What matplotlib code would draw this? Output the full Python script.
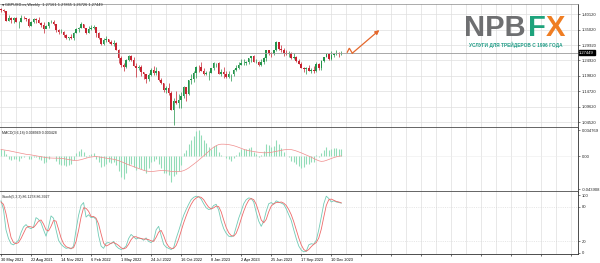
import matplotlib
matplotlib.use("Agg")
import matplotlib.pyplot as plt
import matplotlib.transforms as mtransforms
import numpy as np

### GBPUSD weekly candles, week of 30 May 2021 .. week of 7 Jan 2024 #########
opens = [1.4190, 1.4155, 1.4110, 1.3805, 1.3880, 1.3825, 1.3890, 1.3760, 1.3765, 1.3900,
         1.3875, 1.3865, 1.3640, 1.3760, 1.3865, 1.3840, 1.3735, 1.3675, 1.3530, 1.3615,
         1.3745, 1.3755, 1.3680, 1.3500, 1.3415, 1.3440, 1.3330, 1.3235, 1.3270, 1.3235,
         1.3405, 1.3530, 1.3570, 1.3680, 1.3555, 1.3405, 1.3530, 1.3555, 1.3590, 1.3410,
         1.3230, 1.3035, 1.3180, 1.3185, 1.3110, 1.3030, 1.3060, 1.2835, 1.2570, 1.2335,
         1.2260, 1.2490, 1.2620, 1.2490, 1.2310, 1.2230, 1.2265, 1.2095, 1.2030, 1.1870,
         1.2000, 1.2165, 1.2075, 1.2135, 1.1830, 1.1735, 1.1510, 1.1590, 1.1410, 1.0855,
         1.1165, 1.1090, 1.1170, 1.1310, 1.1615, 1.1375, 1.1830, 1.1890, 1.2090, 1.2285,
         1.2265, 1.2140, 1.2045, 1.2085, 1.2090, 1.2230, 1.2395, 1.2395, 1.2050, 1.2120,
         1.2030, 1.1945, 1.2035, 1.2035, 1.2180, 1.2230, 1.2335, 1.2410, 1.2415, 1.2440,
         1.2565, 1.2630, 1.2445, 1.2445, 1.2345, 1.2450, 1.2575, 1.2820, 1.2720, 1.2700,
         1.2840, 1.3090, 1.2855, 1.2850, 1.2750, 1.2695, 1.2735, 1.2575, 1.2590, 1.2465,
         1.2385, 1.2240, 1.2200, 1.2240, 1.2130, 1.2160, 1.2125, 1.2380, 1.2235, 1.2460,
         1.2605, 1.2700, 1.2545, 1.2680, 1.2705, 1.2730, 1.27161]
highs = [1.4220, 1.4200, 1.4135, 1.3975, 1.3935, 1.3910, 1.3910, 1.3785, 1.3985, 1.3960,
         1.3890, 1.3890, 1.3785, 1.3890, 1.3890, 1.3910, 1.3750, 1.3750, 1.3675, 1.3775,
         1.3835, 1.3830, 1.3700, 1.3515, 1.3515, 1.3450, 1.3375, 1.3275, 1.3375, 1.3440,
         1.3545, 1.3600, 1.3750, 1.3690, 1.3555, 1.3630, 1.3645, 1.3645, 1.3605, 1.3440,
         1.3245, 1.3215, 1.3300, 1.3190, 1.3170, 1.3150, 1.3090, 1.2870, 1.2640, 1.2405,
         1.2525, 1.2665, 1.2665, 1.2600, 1.2405, 1.2325, 1.2330, 1.2100, 1.2045, 1.2065,
         1.2245, 1.2295, 1.2275, 1.2140, 1.1900, 1.1760, 1.1650, 1.1740, 1.1475, 1.1235,
         1.1495, 1.1380, 1.1440, 1.1645, 1.1620, 1.1855, 1.2030, 1.2155, 1.2310, 1.2345,
         1.2445, 1.2240, 1.2125, 1.2125, 1.2245, 1.2435, 1.2420, 1.2450, 1.2195, 1.2270,
         1.2145, 1.2145, 1.2045, 1.2205, 1.2345, 1.2425, 1.2525, 1.2545, 1.2475, 1.2585,
         1.2640, 1.2680, 1.2545, 1.2475, 1.2545, 1.2590, 1.2850, 1.2850, 1.2755, 1.2850,
         1.3145, 1.3095, 1.3000, 1.2890, 1.2820, 1.2790, 1.2765, 1.2745, 1.2650, 1.2545,
         1.2425, 1.2270, 1.2270, 1.2335, 1.2235, 1.2290, 1.2430, 1.2390, 1.2505, 1.2615,
         1.2735, 1.2720, 1.2795, 1.2735, 1.2825, 1.2770, 1.27865]
lows = [1.4085, 1.4075, 1.3790, 1.3785, 1.3735, 1.3730, 1.3745, 1.3570, 1.3760, 1.3865,
        1.3805, 1.3600, 1.3640, 1.3725, 1.3725, 1.3715, 1.3605, 1.3410, 1.3545, 1.3570,
        1.3735, 1.3670, 1.3425, 1.3355, 1.3395, 1.3280, 1.3195, 1.3160, 1.3200, 1.3170,
        1.3400, 1.3430, 1.3570, 1.3545, 1.3360, 1.3405, 1.3490, 1.3520, 1.3270, 1.3210,
        1.3000, 1.3000, 1.3105, 1.3050, 1.3000, 1.2975, 1.2830, 1.2410, 1.2275, 1.2155,
        1.2235, 1.2460, 1.2460, 1.2300, 1.1935, 1.2160, 1.1975, 1.1875, 1.1760, 1.1810,
        1.1960, 1.2005, 1.2005, 1.1820, 1.1715, 1.1445, 1.1405, 1.1350, 1.0840, 1.0350,
        1.1055, 1.0925, 1.0925, 1.1260, 1.1145, 1.1335, 1.1710, 1.1780, 1.1900, 1.2105,
        1.2130, 1.2020, 1.2000, 1.1840, 1.2085, 1.2170, 1.2265, 1.2045, 1.1960, 1.1915,
        1.1925, 1.1920, 1.1805, 1.1990, 1.2135, 1.2215, 1.2335, 1.2345, 1.2345, 1.2365,
        1.2440, 1.2440, 1.2390, 1.2310, 1.2310, 1.2370, 1.2485, 1.2685, 1.2590, 1.2675,
        1.2795, 1.2840, 1.2765, 1.2620, 1.2660, 1.2615, 1.2550, 1.2545, 1.2445, 1.2380,
        1.2230, 1.2110, 1.2035, 1.2125, 1.2090, 1.2070, 1.2095, 1.2185, 1.2185, 1.2445,
        1.2590, 1.2500, 1.2500, 1.2610, 1.2675, 1.2610, 1.26726]
closes = [1.4155, 1.4110, 1.3805, 1.3880, 1.3825, 1.3890, 1.3760, 1.3765, 1.3900, 1.3875,
          1.3865, 1.3640, 1.3760, 1.3865, 1.3840, 1.3735, 1.3675, 1.3530, 1.3615, 1.3745,
          1.3755, 1.3680, 1.3500, 1.3415, 1.3440, 1.3330, 1.3235, 1.3270, 1.3235, 1.3405,
          1.3530, 1.3570, 1.3680, 1.3555, 1.3405, 1.3530, 1.3555, 1.3590, 1.3410, 1.3230,
          1.3035, 1.3180, 1.3185, 1.3110, 1.3030, 1.3060, 1.2835, 1.2570, 1.2335, 1.2260,
          1.2490, 1.2620, 1.2490, 1.2310, 1.2230, 1.2265, 1.2095, 1.2030, 1.1870, 1.2000,
          1.2165, 1.2075, 1.2135, 1.1830, 1.1735, 1.1510, 1.1590, 1.1410, 1.0855, 1.1165,
          1.1090, 1.1170, 1.1310, 1.1615, 1.1375, 1.1830, 1.1890, 1.2090, 1.2285, 1.2265,
          1.2140, 1.2045, 1.2085, 1.2090, 1.2230, 1.2395, 1.2395, 1.2050, 1.2120, 1.2030,
          1.1945, 1.2035, 1.2035, 1.2180, 1.2230, 1.2335, 1.2410, 1.2415, 1.2440, 1.2565,
          1.2630, 1.2445, 1.2445, 1.2345, 1.2450, 1.2575, 1.2820, 1.2720, 1.2700, 1.2840,
          1.3090, 1.2855, 1.2850, 1.2750, 1.2695, 1.2735, 1.2575, 1.2590, 1.2465, 1.2385,
          1.2240, 1.2200, 1.2240, 1.2130, 1.2160, 1.2125, 1.2380, 1.2235, 1.2460, 1.2605,
          1.2700, 1.2545, 1.2680, 1.2705, 1.2730, 1.2715, 1.27449]

### MACD sub window (histogram + signal) #####################################
macd_hist = [0.010, 0.008, 0.003, -0.004, -0.005, -0.003, -0.004, -0.006, -0.002, -0.001,
             0.000, -0.004, -0.003, -0.001, -0.001, -0.003, -0.005, -0.009, -0.007, -0.003,
             0.001, 0.000, -0.006, -0.010, -0.011, -0.012, -0.013, -0.011, -0.010, -0.005,
             0.004, 0.007, 0.010, 0.005, -0.001, 0.002, 0.003, 0.004, -0.003, -0.008,
             -0.014, -0.013, -0.010, -0.008, -0.009, -0.008, -0.012, -0.020, -0.028, -0.030,
             -0.022, -0.012, -0.010, -0.014, -0.018, -0.016, -0.017, -0.018, -0.022, -0.016,
             -0.008, -0.006, -0.004, -0.010, -0.015, -0.022, -0.022, -0.025, -0.034, -0.026,
             -0.024, -0.020, -0.012, 0.004, 0.008, 0.016, 0.022, 0.027, 0.033, 0.035,
             0.028, 0.022, 0.017, 0.012, 0.010, 0.014, 0.015, 0.006, 0.002, 0.001,
             -0.002, -0.004, -0.006, -0.002, 0.002, 0.006, 0.009, 0.010, 0.009, 0.011,
             0.012, 0.006, 0.003, -0.001, 0.002, 0.007, 0.016, 0.015, 0.012, 0.014,
             0.022, 0.016, 0.011, 0.005, 0.001, -0.001, -0.006, -0.007, -0.010, -0.013,
             -0.016, -0.014, -0.010, -0.010, -0.008, -0.007, 0.002, -0.001, 0.004, 0.008,
             0.012, 0.008, 0.010, 0.011, 0.011, 0.009, 0.008969]
macd_signal = [0.0090, 0.0085, 0.0080, 0.0074, 0.0067, 0.0060, 0.0052, 0.0045, 0.0038, 0.0032,
               0.0026, 0.0022, 0.0018, 0.0012, 0.0006, 0.0000, -0.0006, -0.0012, -0.0018, -0.0022,
               -0.0024, -0.0025, -0.0025, -0.0026, -0.0028, -0.0032, -0.0038, -0.0044, -0.0050, -0.0055,
               -0.0056, -0.0052, -0.0045, -0.0035, -0.0025, -0.0016, -0.0010, -0.0006, -0.0004, -0.0008,
               -0.0014, -0.0020, -0.0025, -0.0030, -0.0035, -0.0040, -0.0048, -0.0058, -0.0070, -0.0085,
               -0.0100, -0.0112, -0.0125, -0.0138, -0.0150, -0.0162, -0.0175, -0.0186, -0.0195, -0.0200,
               -0.0202, -0.0200, -0.0196, -0.0192, -0.0190, -0.0190, -0.0192, -0.0195, -0.0200, -0.0203,
               -0.0205, -0.0204, -0.0200, -0.0190, -0.0175, -0.0155, -0.0130, -0.0105, -0.0080, -0.0052,
               -0.0025, 0.0005, 0.0035, 0.0065, 0.0095, 0.0120, 0.0140, 0.0155, 0.0160, 0.0160,
               0.0158, 0.0154, 0.0148, 0.0140, 0.0130, 0.0118, 0.0105, 0.0092, 0.0082, 0.0074,
               0.0068, 0.0062, 0.0057, 0.0052, 0.0048, 0.0046, 0.0046, 0.0048, 0.0052, 0.0058,
               0.0065, 0.0072, 0.0080, 0.0085, 0.0088, 0.0090, 0.0088, 0.0080, 0.0070, 0.0058,
               0.0045, 0.0030, 0.0016, 0.0002, -0.0012, -0.0030, -0.0045, -0.0060, -0.0068, -0.0065,
               -0.0055, -0.0042, -0.0030, -0.0018, -0.0008, 0.0000, 0.000428]

### Stochastic sub window ####################################################
stoch_k = [90, 75, 40, 25, 16, 14, 18, 22, 35, 45,
           49, 44, 42, 45, 61, 58, 52, 40, 29, 45,
           64, 60, 40, 22, 15, 11, 8, 9, 7, 12,
           40, 65, 82, 87, 62, 66, 61, 62, 58, 30,
           12, 8, 17, 18, 16, 20, 12, 8, 6, 8,
           12, 25, 32, 28, 24, 26, 25, 22, 26, 20,
           18, 22, 40, 46, 30, 15, 10, 8, 6, 9,
           25, 38, 52, 65, 75, 84, 92, 96, 98, 97,
           93, 85, 78, 75, 76, 82, 84, 74, 55, 42,
           34, 29, 28, 30, 45, 60, 72, 85, 92, 95,
           94, 88, 70, 55, 46, 55, 72, 85, 87, 84,
           90, 88, 86, 84, 76, 66, 56, 40, 25, 12,
           5, 2, 3, 14, 16, 15, 22, 40, 62, 85,
           98, 94, 88, 90, 88, 87, 86.1278]
stoch_d = [88, 84, 68, 47, 27, 18, 16, 18, 25, 34,
           43, 46, 45, 44, 49, 55, 57, 50, 40, 38,
           46, 56, 55, 41, 26, 16, 11, 9, 8, 9,
           20, 39, 62, 78, 77, 72, 63, 63, 60, 50,
           33, 17, 12, 14, 17, 18, 16, 13, 9, 7,
           9, 15, 23, 28, 28, 26, 25, 24, 24, 23,
           21, 20, 27, 36, 39, 30, 18, 11, 8, 8,
           13, 24, 38, 52, 64, 75, 84, 91, 95, 97,
           96, 92, 85, 79, 76, 78, 81, 80, 71, 57,
           44, 35, 30, 29, 34, 45, 59, 72, 83, 91,
           94, 92, 84, 71, 57, 52, 58, 71, 81, 85,
           87, 87, 88, 86, 82, 75, 66, 54, 40, 26,
           14, 6, 3, 6, 11, 15, 18, 26, 41, 62,
           82, 92, 93, 91, 89, 88, 86.3927]

date_labels = ["30 May 2021", "22 Aug 2021", "14 Nov 2021", "6 Feb 2022", "1 May 2022",
               "24 Jul 2022", "16 Oct 2022", "8 Jan 2023", "2 Apr 2023", "25 Jun 2023",
               "17 Sep 2023", "10 Dec 2023"]
price_ticks = [1.40120, 1.35020, 1.29920, 1.24920, 1.19820, 1.14720, 1.09620, 1.04520]
last_price = 1.27449
arrow_x = [138.4, 139.2, 140.4, 151.2]
arrow_y = [1.2762, 1.2895, 1.2729, 1.3492]

### Figure ###################################################################
W, H = 600, 263
fig = plt.figure(figsize=(6, 2.63), dpi=100)
plt.rcParams['font.family'] = ['Liberation Sans', 'DejaVu Sans']

def box(x0, y0, x1, y1):                                                     # pixel box -> fig fraction
    return [x0 / W, 1 - y1 / H, (x1 - x0) / W, (y1 - y0) / H]

ax1 = fig.add_axes(box(0, 4, 578, 127.5))
ax2 = fig.add_axes(box(0, 127.5, 578, 191.5))
ax3 = fig.add_axes(box(0, 191.5, 578, 254))

idx = np.arange(len(closes))
o = np.array(opens); c = np.array(closes)
up = c >= o
col = np.where(up, '#23944b', '#c6222f')
GRID = '#dedede'
SEP = '#4a4a4a'

for ax in (ax1, ax2, ax3):
    ax.set_xlim(-0.4, 230.6)
    ax.set_xticks(np.arange(0, 231, 12))
    ax.set_xticks(np.arange(6, 231, 12), minor=True)
    ax.grid(True, which='both', axis='x', color=GRID, lw=0.5)
    ax.set_axisbelow(True)
    ax.spines['left'].set_visible(False)
    ax.spines['right'].set_color('#303030'); ax.spines['right'].set_linewidth(0.6)
    ax.spines['top'].set_visible(False)
    ax.spines['bottom'].set_color(SEP); ax.spines['bottom'].set_linewidth(1.2)
    ax.yaxis.tick_right()
    ax.tick_params(axis='y', length=1.5, width=0.4, pad=1, labelsize=3, colors='#222222')
    ax.tick_params(axis='x', which='both', length=0)
    ax.tick_params(axis='x', labelbottom=False)
ax1.spines['top'].set_visible(True)
ax1.spines['top'].set_color('#8a8a8a'); ax1.spines['top'].set_linewidth(0.5)
ax3.spines['bottom'].set_color('#303030'); ax3.spines['bottom'].set_linewidth(0.6)

### main chart
ax1.set_ylim(1.0276, 1.4353)
ax1.set_yticks(price_ticks)
ax1.set_yticklabels(["%.5f" % v for v in price_ticks])
ax1.grid(True, axis='y', color=GRID, lw=0.5)
ax1.vlines(idx, lows, highs, color=col, lw=0.5)
ax1.bar(idx, np.maximum(np.abs(c - o), 0.0006), bottom=np.minimum(o, c), width=0.62, color=col, lw=0)
ax1.axhline(last_price, color='#9a9a9a', lw=0.6)
ax1.text(1.002, last_price, "%.5f" % last_price, transform=mtransforms.blended_transform_factory(ax1.transAxes, ax1.transData),
         fontsize=3, color='white', va='center', ha='left',
         bbox=dict(boxstyle='square,pad=0.15', fc='black', ec='black'))
ax1.plot(arrow_x[:-1], arrow_y[:-1], color='#e4672b', lw=0.9, solid_joinstyle='miter')
ax1.annotate("", xy=(arrow_x[-1], arrow_y[-1]), xytext=(arrow_x[-2], arrow_y[-2]),
             arrowprops=dict(arrowstyle='-|>', color='#e4672b', lw=0.9, mutation_scale=6, shrinkA=0, shrinkB=0))
fig.text(1.5 / W, 1 - 3.3 / H, "\u25bc", fontsize=2.2, va='top', color='#333333', family='DejaVu Sans')
fig.text(5 / W, 1 - 3.2 / H, "GBPUSD.cs,Weekly  1.27161 1.27865 1.26726 1.27449", fontsize=2.8, va='top', color='#222222')

### logo
fig.text(464 / W, 1 - 36 / H, "NPB", fontsize=21, fontweight='bold', color='#6e6f71', va='baseline')
fig.text(528 / W, 1 - 36 / H, "F", fontsize=21, fontweight='bold', color='#1ea37c', va='baseline')
fig.text(546 / W, 1 - 36 / H, "X", fontsize=21, fontweight='bold', color='#ef7d22', va='baseline')
fig.text(516 / W, 1 - 45.3 / H, "УСЛУГИ ДЛЯ ТРЕЙДЕРОВ С 1996 ГОДА", fontsize=3.4, fontweight='bold',
         color='#1f9c86', ha='center', va='center', family=['Liberation Sans', 'DejaVu Sans'])

### MACD
ax2.set_ylim(-0.0467, 0.0381)
ax2.set_yticks([0.034769, 0.0, -0.043908])
ax2.set_yticklabels(["0.034769", "0.00", "-0.043908"])
ax2.axhline(0, color='#ececec', lw=0.4)
ax2.vlines(idx, 0, macd_hist, color='#93dcb8', lw=0.8)
ax2.plot(idx, macd_signal, color='#f08c8c', lw=0.5)
ax2.text(0.004, 0.94, "MACD(3,6,18) 0.008969 0.000428", transform=ax2.transAxes, fontsize=2.6, va='top', color='#222222')

### Stochastic
ax3.set_ylim(-1.75, 106.1)
ax3.set_yticks([100, 80, 20, 0])
ax3.set_yticklabels(["100", "80", "20", "0"])
for lev in (20, 80):
    ax3.axhline(lev, color='#d5d5d5', lw=0.4, ls=(0, (2, 2)))
ax3.plot(idx, stoch_k, color='#72cbb6', lw=0.6)
ax3.plot(idx, stoch_d, color='#ee6a6a', lw=0.6)
ax3.text(0.004, 0.95, "Stoch(5,3,3) 86.1278 86.3927", transform=ax3.transAxes, fontsize=2.6, va='top', color='#222222')
ax3.tick_params(axis='x', labelbottom=True, labelsize=2.8, pad=1.5, length=1.5, width=0.4)
ax3.set_xticklabels(date_labels + [""] * (len(np.arange(0, 231, 12)) - len(date_labels)), ha='left')

fig.savefig("out.png", dpi=100, facecolor='white')
